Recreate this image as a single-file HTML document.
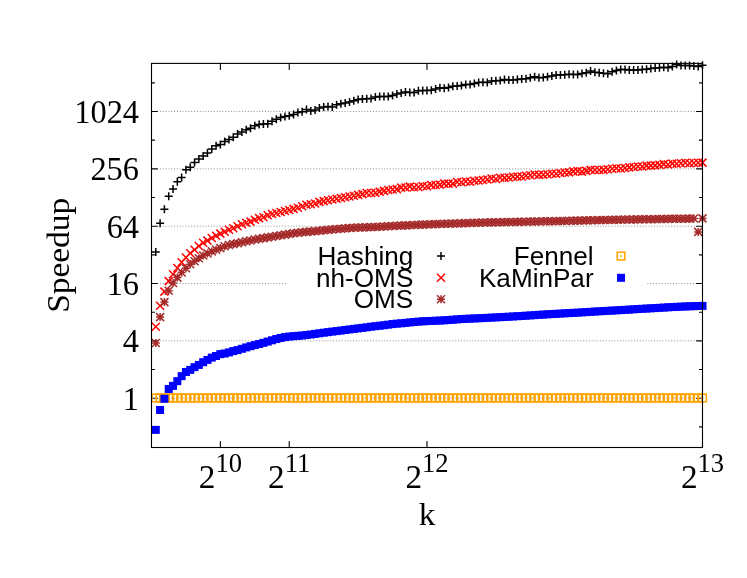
<!DOCTYPE html>
<html><head><meta charset="utf-8"><title>Speedup</title>
<style>html,body{margin:0;padding:0;background:#fff}svg{display:block;will-change:transform}</style>
</head><body>
<svg width="747" height="578" viewBox="0 0 747 578">
<defs>
<g id="p1"><path d="M-4 0H4M0 -4V4" fill="none" stroke-width="1.5"/></g>
<g id="p2"><path d="M-4 -4L4 4M-4 4L4 -4" fill="none" stroke-width="1.5"/></g>
<g id="p3"><path d="M-4 0H4M0 -4V4M-4 -4L4 4M-4 4L4 -4" fill="none" stroke-width="1.5"/></g>
<g id="p4"><rect x="-3.85" y="-3.85" width="7.7" height="7.7" fill="none" stroke-width="1.55"/><rect x="-0.9" y="-0.7" width="1.8" height="1.4" stroke="none"/></g>
<g id="p5"><rect x="-4" y="-4" width="8" height="8" stroke="none"/></g>
</defs>
<rect width="747" height="578" fill="#fff"/>
<g stroke="#8a8a8a" stroke-width="0.9" stroke-dasharray="1.05 1.79" fill="none">
<path d="M159.85 398.2H696.5"/>
<path d="M159.85 340.86H696.5"/>
<path d="M159.85 283.52H286.5M647.4 283.52H696.5"/>
<path d="M159.85 226.18H696.5"/>
<path d="M159.85 168.84H696.5"/>
<path d="M159.85 111.5H696.5"/>
</g>
<g stroke="#000" stroke-width="1.1" fill="none" stroke-linecap="round">
<path d="M151.5 398.2h6M702.5 398.2h-6M151.5 340.86h6M702.5 340.86h-6M151.5 283.52h6M702.5 283.52h-6M151.5 226.18h6M702.5 226.18h-6M151.5 168.84h6M702.5 168.84h-6M151.5 111.5h6M702.5 111.5h-6M151.5 426.87h3M702.5 426.87h-3M151.5 369.53h3M702.5 369.53h-3M151.5 312.19h3M702.5 312.19h-3M151.5 254.85h3M702.5 254.85h-3M151.5 197.51h3M702.5 197.51h-3M151.5 140.17h3M702.5 140.17h-3M151.5 82.83h3M702.5 82.83h-3M220.38 447.5v-6M220.38 63.4v6M289.25 447.5v-6M289.25 63.4v6M427 447.5v-6M427 63.4v6M702.5 447.5v-6M702.5 63.4v6"/>
</g>
<g stroke="#000" fill="#000">
<use href="#p1" x="155.8" y="252"/><use href="#p1" x="160.11" y="223.2"/><use href="#p1" x="164.41" y="209.3"/><use href="#p1" x="168.72" y="196.2"/><use href="#p1" x="173.02" y="188.9"/><use href="#p1" x="177.33" y="181.7"/><use href="#p1" x="181.63" y="177.5"/><use href="#p1" x="185.94" y="169.7"/><use href="#p1" x="190.24" y="167.2"/><use href="#p1" x="194.55" y="162.6"/><use href="#p1" x="198.85" y="159"/><use href="#p1" x="203.16" y="155.9"/><use href="#p1" x="207.46" y="152.9"/><use href="#p1" x="211.77" y="149"/><use href="#p1" x="216.07" y="145.8"/><use href="#p1" x="220.38" y="144.5"/><use href="#p1" x="224.68" y="141.6"/><use href="#p1" x="228.98" y="139.5"/><use href="#p1" x="233.29" y="137.3"/><use href="#p1" x="237.59" y="133.9"/><use href="#p1" x="241.9" y="132.1"/><use href="#p1" x="246.2" y="129.8"/><use href="#p1" x="250.51" y="128.2"/><use href="#p1" x="254.81" y="125.7"/><use href="#p1" x="259.12" y="124.5"/><use href="#p1" x="263.42" y="124.1"/><use href="#p1" x="267.73" y="123.7"/><use href="#p1" x="272.03" y="121.3"/><use href="#p1" x="276.34" y="119.2"/><use href="#p1" x="280.64" y="117.6"/><use href="#p1" x="284.95" y="116.5"/><use href="#p1" x="289.25" y="115.7"/><use href="#p1" x="293.55" y="114.4"/><use href="#p1" x="297.86" y="112.5"/><use href="#p1" x="302.16" y="111.7"/><use href="#p1" x="306.47" y="109.6"/><use href="#p1" x="310.77" y="110.9"/><use href="#p1" x="315.08" y="110.1"/><use href="#p1" x="319.38" y="108"/><use href="#p1" x="323.69" y="106.9"/><use href="#p1" x="327.99" y="106.4"/><use href="#p1" x="332.3" y="106.9"/><use href="#p1" x="336.6" y="104.8"/><use href="#p1" x="340.91" y="103.7"/><use href="#p1" x="345.21" y="102.9"/><use href="#p1" x="349.52" y="101.9"/><use href="#p1" x="353.82" y="100.7"/><use href="#p1" x="358.12" y="99.5"/><use href="#p1" x="362.43" y="99.1"/><use href="#p1" x="366.73" y="98.7"/><use href="#p1" x="371.04" y="98.4"/><use href="#p1" x="375.34" y="97.1"/><use href="#p1" x="379.65" y="96.6"/><use href="#p1" x="383.95" y="96.6"/><use href="#p1" x="388.26" y="96.6"/><use href="#p1" x="392.56" y="95.5"/><use href="#p1" x="396.87" y="93.9"/><use href="#p1" x="401.17" y="93.1"/><use href="#p1" x="405.48" y="92"/><use href="#p1" x="409.78" y="92.6"/><use href="#p1" x="414.09" y="92.6"/><use href="#p1" x="418.39" y="90.7"/><use href="#p1" x="422.7" y="90.4"/><use href="#p1" x="427" y="90.4"/><use href="#p1" x="431.3" y="90.2"/><use href="#p1" x="435.61" y="89.1"/><use href="#p1" x="439.91" y="87.8"/><use href="#p1" x="444.22" y="88.3"/><use href="#p1" x="448.52" y="87.5"/><use href="#p1" x="452.83" y="86.2"/><use href="#p1" x="457.13" y="85.9"/><use href="#p1" x="461.44" y="85.4"/><use href="#p1" x="465.74" y="84.6"/><use href="#p1" x="470.05" y="84.6"/><use href="#p1" x="474.35" y="83.6"/><use href="#p1" x="478.66" y="82.6"/><use href="#p1" x="482.96" y="82.3"/><use href="#p1" x="487.27" y="82.6"/><use href="#p1" x="491.57" y="81"/><use href="#p1" x="495.88" y="80.7"/><use href="#p1" x="500.18" y="80.4"/><use href="#p1" x="504.48" y="79.4"/><use href="#p1" x="508.79" y="79.9"/><use href="#p1" x="513.09" y="79.9"/><use href="#p1" x="517.4" y="79.6"/><use href="#p1" x="521.7" y="79.1"/><use href="#p1" x="526.01" y="78.8"/><use href="#p1" x="530.31" y="77.8"/><use href="#p1" x="534.62" y="76.7"/><use href="#p1" x="538.92" y="77.8"/><use href="#p1" x="543.23" y="77.5"/><use href="#p1" x="547.53" y="76.7"/><use href="#p1" x="551.84" y="75.9"/><use href="#p1" x="556.14" y="75.1"/><use href="#p1" x="560.45" y="75.1"/><use href="#p1" x="564.75" y="74.8"/><use href="#p1" x="569.05" y="74.3"/><use href="#p1" x="573.36" y="74.6"/><use href="#p1" x="577.66" y="74.6"/><use href="#p1" x="581.97" y="73.5"/><use href="#p1" x="586.27" y="72.7"/><use href="#p1" x="590.58" y="70.9"/><use href="#p1" x="594.88" y="72.2"/><use href="#p1" x="599.19" y="72.8"/><use href="#p1" x="603.49" y="73.3"/><use href="#p1" x="607.8" y="73.8"/><use href="#p1" x="612.1" y="71.7"/><use href="#p1" x="616.41" y="70.6"/><use href="#p1" x="620.71" y="69.6"/><use href="#p1" x="625.02" y="69.6"/><use href="#p1" x="629.32" y="70.1"/><use href="#p1" x="633.62" y="70.1"/><use href="#p1" x="637.93" y="70.1"/><use href="#p1" x="642.23" y="69.6"/><use href="#p1" x="646.54" y="69.3"/><use href="#p1" x="650.84" y="68.5"/><use href="#p1" x="655.15" y="68"/><use href="#p1" x="659.45" y="67.7"/><use href="#p1" x="663.76" y="67.3"/><use href="#p1" x="668.06" y="67.7"/><use href="#p1" x="672.37" y="66.5"/><use href="#p1" x="676.67" y="64.5"/><use href="#p1" x="680.98" y="65.6"/><use href="#p1" x="685.28" y="65.6"/><use href="#p1" x="689.59" y="65.6"/><use href="#p1" x="693.89" y="66.1"/><use href="#p1" x="698.2" y="66.5"/><use href="#p1" x="702.5" y="65.3"/>
</g>
<use href="#p1" x="441.0" y="256.1" stroke="#000"/>
<g stroke="#f00" fill="#f00">
<use href="#p2" x="155.8" y="326.7"/><use href="#p2" x="160.11" y="305.7"/><use href="#p2" x="164.41" y="291.6"/><use href="#p2" x="168.72" y="281.1"/><use href="#p2" x="173.02" y="274.2"/><use href="#p2" x="177.33" y="268"/><use href="#p2" x="181.63" y="262.2"/><use href="#p2" x="185.94" y="257.5"/><use href="#p2" x="190.24" y="253.2"/><use href="#p2" x="194.55" y="249.7"/><use href="#p2" x="198.85" y="246"/><use href="#p2" x="203.16" y="242.8"/><use href="#p2" x="207.46" y="240.6"/><use href="#p2" x="211.77" y="238"/><use href="#p2" x="216.07" y="235.8"/><use href="#p2" x="220.38" y="233.6"/><use href="#p2" x="224.68" y="231.7"/><use href="#p2" x="228.98" y="229.8"/><use href="#p2" x="233.29" y="228.2"/><use href="#p2" x="237.59" y="226.2"/><use href="#p2" x="241.9" y="224.2"/><use href="#p2" x="246.2" y="222.8"/><use href="#p2" x="250.51" y="221.6"/><use href="#p2" x="254.81" y="219.7"/><use href="#p2" x="259.12" y="218.1"/><use href="#p2" x="263.42" y="217.2"/><use href="#p2" x="267.73" y="215.2"/><use href="#p2" x="272.03" y="214"/><use href="#p2" x="276.34" y="212.92"/><use href="#p2" x="280.64" y="211.93"/><use href="#p2" x="284.95" y="210.96"/><use href="#p2" x="289.25" y="209.97"/><use href="#p2" x="293.55" y="208.9"/><use href="#p2" x="297.86" y="207.7"/><use href="#p2" x="302.16" y="206.2"/><use href="#p2" x="306.47" y="204.8"/><use href="#p2" x="310.77" y="204.2"/><use href="#p2" x="315.08" y="203.5"/><use href="#p2" x="319.38" y="201.9"/><use href="#p2" x="323.69" y="201.1"/><use href="#p2" x="327.99" y="200.3"/><use href="#p2" x="332.3" y="199.52"/><use href="#p2" x="336.6" y="198.75"/><use href="#p2" x="340.91" y="197.98"/><use href="#p2" x="345.21" y="197.22"/><use href="#p2" x="349.52" y="196.45"/><use href="#p2" x="353.82" y="195.68"/><use href="#p2" x="358.12" y="194.9"/><use href="#p2" x="362.43" y="194.1"/><use href="#p2" x="366.73" y="193"/><use href="#p2" x="371.04" y="193"/><use href="#p2" x="375.34" y="192.7"/><use href="#p2" x="379.65" y="191.65"/><use href="#p2" x="383.95" y="190.85"/><use href="#p2" x="388.26" y="190.05"/><use href="#p2" x="392.56" y="189.42"/><use href="#p2" x="396.87" y="189.13"/><use href="#p2" x="401.17" y="187.64"/><use href="#p2" x="405.48" y="187.57"/><use href="#p2" x="409.78" y="186.64"/><use href="#p2" x="414.09" y="187.23"/><use href="#p2" x="418.39" y="186.91"/><use href="#p2" x="422.7" y="185.97"/><use href="#p2" x="427" y="186.29"/><use href="#p2" x="431.3" y="185.13"/><use href="#p2" x="435.61" y="185.09"/><use href="#p2" x="439.91" y="184.61"/><use href="#p2" x="444.22" y="183.61"/><use href="#p2" x="448.52" y="183.6"/><use href="#p2" x="452.83" y="183.61"/><use href="#p2" x="457.13" y="182.08"/><use href="#p2" x="461.44" y="182.29"/><use href="#p2" x="465.74" y="181.47"/><use href="#p2" x="470.05" y="181.71"/><use href="#p2" x="474.35" y="180.83"/><use href="#p2" x="478.66" y="180.48"/><use href="#p2" x="482.96" y="180.05"/><use href="#p2" x="487.27" y="179.51"/><use href="#p2" x="491.57" y="178.52"/><use href="#p2" x="495.88" y="179.09"/><use href="#p2" x="500.18" y="177.72"/><use href="#p2" x="504.48" y="177.87"/><use href="#p2" x="508.79" y="177.59"/><use href="#p2" x="513.09" y="176.67"/><use href="#p2" x="517.4" y="176.63"/><use href="#p2" x="521.7" y="176.59"/><use href="#p2" x="526.01" y="175.84"/><use href="#p2" x="530.31" y="175.31"/><use href="#p2" x="534.62" y="174.43"/><use href="#p2" x="538.92" y="174.87"/><use href="#p2" x="543.23" y="174.69"/><use href="#p2" x="547.53" y="174.33"/><use href="#p2" x="551.84" y="173.74"/><use href="#p2" x="556.14" y="173.74"/><use href="#p2" x="560.45" y="172.92"/><use href="#p2" x="564.75" y="172.58"/><use href="#p2" x="569.05" y="172.37"/><use href="#p2" x="573.36" y="171.37"/><use href="#p2" x="577.66" y="171.13"/><use href="#p2" x="581.97" y="171.61"/><use href="#p2" x="586.27" y="170.85"/><use href="#p2" x="590.58" y="169.85"/><use href="#p2" x="594.88" y="170.04"/><use href="#p2" x="599.19" y="169.97"/><use href="#p2" x="603.49" y="169.88"/><use href="#p2" x="607.8" y="169.18"/><use href="#p2" x="612.1" y="168.67"/><use href="#p2" x="616.41" y="168.32"/><use href="#p2" x="620.71" y="168.49"/><use href="#p2" x="625.02" y="168.02"/><use href="#p2" x="629.32" y="167.35"/><use href="#p2" x="633.62" y="167.06"/><use href="#p2" x="637.93" y="166.57"/><use href="#p2" x="642.23" y="166.55"/><use href="#p2" x="646.54" y="165.64"/><use href="#p2" x="650.84" y="165.64"/><use href="#p2" x="655.15" y="165.38"/><use href="#p2" x="659.45" y="164.89"/><use href="#p2" x="663.76" y="164.1"/><use href="#p2" x="668.06" y="164.57"/><use href="#p2" x="672.37" y="163.61"/><use href="#p2" x="676.67" y="163.81"/><use href="#p2" x="680.98" y="163.24"/><use href="#p2" x="685.28" y="162.74"/><use href="#p2" x="689.59" y="163.2"/><use href="#p2" x="693.89" y="163.04"/><use href="#p2" x="698.2" y="162.84"/><use href="#p2" x="702.5" y="162.6"/>
</g>
<use href="#p2" x="441.0" y="277.8" stroke="#f00"/>
<g stroke="#a52a2a" fill="#a52a2a">
<use href="#p3" x="155.8" y="343"/><use href="#p3" x="160.11" y="317.1"/><use href="#p3" x="164.41" y="302.1"/><use href="#p3" x="168.72" y="290.8"/><use href="#p3" x="173.02" y="283"/><use href="#p3" x="177.33" y="277.6"/><use href="#p3" x="181.63" y="272.5"/><use href="#p3" x="185.94" y="268.2"/><use href="#p3" x="190.24" y="264.3"/><use href="#p3" x="194.55" y="261.2"/><use href="#p3" x="198.85" y="258.2"/><use href="#p3" x="203.16" y="255.5"/><use href="#p3" x="207.46" y="253.4"/><use href="#p3" x="211.77" y="251.4"/><use href="#p3" x="216.07" y="249.7"/><use href="#p3" x="220.38" y="248.1"/><use href="#p3" x="224.68" y="246.3"/><use href="#p3" x="228.98" y="245.09"/><use href="#p3" x="233.29" y="244.09"/><use href="#p3" x="237.59" y="243.2"/><use href="#p3" x="241.9" y="242.28"/><use href="#p3" x="246.2" y="241.32"/><use href="#p3" x="250.51" y="240.41"/><use href="#p3" x="254.81" y="239.58"/><use href="#p3" x="259.12" y="238.82"/><use href="#p3" x="263.42" y="238.1"/><use href="#p3" x="267.73" y="237.4"/><use href="#p3" x="272.03" y="236.73"/><use href="#p3" x="276.34" y="236.05"/><use href="#p3" x="280.64" y="235.34"/><use href="#p3" x="284.95" y="234.64"/><use href="#p3" x="289.25" y="233.96"/><use href="#p3" x="293.55" y="233.34"/><use href="#p3" x="297.86" y="232.79"/><use href="#p3" x="302.16" y="232.29"/><use href="#p3" x="306.47" y="231.86"/><use href="#p3" x="310.77" y="231.49"/><use href="#p3" x="315.08" y="231.15"/><use href="#p3" x="319.38" y="230.74"/><use href="#p3" x="323.69" y="230.28"/><use href="#p3" x="327.99" y="229.86"/><use href="#p3" x="332.3" y="229.46"/><use href="#p3" x="336.6" y="229.07"/><use href="#p3" x="340.91" y="228.69"/><use href="#p3" x="345.21" y="228.35"/><use href="#p3" x="349.52" y="228.04"/><use href="#p3" x="353.82" y="227.78"/><use href="#p3" x="358.12" y="227.58"/><use href="#p3" x="362.43" y="227.43"/><use href="#p3" x="366.73" y="227.27"/><use href="#p3" x="371.04" y="227.12"/><use href="#p3" x="375.34" y="226.96"/><use href="#p3" x="379.65" y="226.76"/><use href="#p3" x="383.95" y="226.5"/><use href="#p3" x="388.26" y="226.26"/><use href="#p3" x="392.56" y="226.04"/><use href="#p3" x="396.87" y="225.81"/><use href="#p3" x="401.17" y="225.6"/><use href="#p3" x="405.48" y="225.39"/><use href="#p3" x="409.78" y="225.19"/><use href="#p3" x="414.09" y="224.99"/><use href="#p3" x="418.39" y="224.8"/><use href="#p3" x="422.7" y="224.63"/><use href="#p3" x="427" y="224.46"/><use href="#p3" x="431.3" y="224.3"/><use href="#p3" x="435.61" y="224.14"/><use href="#p3" x="439.91" y="223.99"/><use href="#p3" x="444.22" y="223.84"/><use href="#p3" x="448.52" y="223.7"/><use href="#p3" x="452.83" y="223.57"/><use href="#p3" x="457.13" y="223.44"/><use href="#p3" x="461.44" y="223.3"/><use href="#p3" x="465.74" y="223.14"/><use href="#p3" x="470.05" y="222.96"/><use href="#p3" x="474.35" y="222.8"/><use href="#p3" x="478.66" y="222.67"/><use href="#p3" x="482.96" y="222.56"/><use href="#p3" x="487.27" y="222.46"/><use href="#p3" x="491.57" y="222.36"/><use href="#p3" x="495.88" y="222.28"/><use href="#p3" x="500.18" y="222.19"/><use href="#p3" x="504.48" y="222.11"/><use href="#p3" x="508.79" y="222.02"/><use href="#p3" x="513.09" y="221.94"/><use href="#p3" x="517.4" y="221.85"/><use href="#p3" x="521.7" y="221.76"/><use href="#p3" x="526.01" y="221.68"/><use href="#p3" x="530.31" y="221.59"/><use href="#p3" x="534.62" y="221.51"/><use href="#p3" x="538.92" y="221.42"/><use href="#p3" x="543.23" y="221.34"/><use href="#p3" x="547.53" y="221.26"/><use href="#p3" x="551.84" y="221.18"/><use href="#p3" x="556.14" y="221.1"/><use href="#p3" x="560.45" y="221.02"/><use href="#p3" x="564.75" y="220.92"/><use href="#p3" x="569.05" y="220.81"/><use href="#p3" x="573.36" y="220.7"/><use href="#p3" x="577.66" y="220.6"/><use href="#p3" x="581.97" y="220.5"/><use href="#p3" x="586.27" y="220.4"/><use href="#p3" x="590.58" y="220.31"/><use href="#p3" x="594.88" y="220.21"/><use href="#p3" x="599.19" y="220.12"/><use href="#p3" x="603.49" y="220.03"/><use href="#p3" x="607.8" y="219.94"/><use href="#p3" x="612.1" y="219.85"/><use href="#p3" x="616.41" y="219.76"/><use href="#p3" x="620.71" y="219.67"/><use href="#p3" x="625.02" y="219.58"/><use href="#p3" x="629.32" y="219.5"/><use href="#p3" x="633.62" y="219.43"/><use href="#p3" x="637.93" y="219.36"/><use href="#p3" x="642.23" y="219.31"/><use href="#p3" x="646.54" y="219.26"/><use href="#p3" x="650.84" y="219.21"/><use href="#p3" x="655.15" y="219.14"/><use href="#p3" x="659.45" y="219.05"/><use href="#p3" x="663.76" y="218.97"/><use href="#p3" x="668.06" y="218.89"/><use href="#p3" x="672.37" y="218.83"/><use href="#p3" x="676.67" y="218.77"/><use href="#p3" x="680.98" y="218.72"/><use href="#p3" x="685.28" y="218.67"/><use href="#p3" x="689.59" y="218.61"/><use href="#p3" x="693.89" y="218.54"/><use href="#p3" x="698.2" y="231.9"/><use href="#p3" x="702.5" y="218.4"/>
</g>
<use href="#p3" x="441.0" y="299.3" stroke="#a52a2a"/>
<g stroke="#ffa500" fill="#ffa500">
<use href="#p4" x="155.8" y="398"/><use href="#p4" x="160.11" y="398"/><use href="#p4" x="164.41" y="398"/><use href="#p4" x="168.72" y="398"/><use href="#p4" x="173.02" y="398"/><use href="#p4" x="177.33" y="398"/><use href="#p4" x="181.63" y="398"/><use href="#p4" x="185.94" y="398"/><use href="#p4" x="190.24" y="398"/><use href="#p4" x="194.55" y="398"/><use href="#p4" x="198.85" y="398"/><use href="#p4" x="203.16" y="398"/><use href="#p4" x="207.46" y="398"/><use href="#p4" x="211.77" y="398"/><use href="#p4" x="216.07" y="398"/><use href="#p4" x="220.38" y="398"/><use href="#p4" x="224.68" y="398"/><use href="#p4" x="228.98" y="398"/><use href="#p4" x="233.29" y="398"/><use href="#p4" x="237.59" y="398"/><use href="#p4" x="241.9" y="398"/><use href="#p4" x="246.2" y="398"/><use href="#p4" x="250.51" y="398"/><use href="#p4" x="254.81" y="398"/><use href="#p4" x="259.12" y="398"/><use href="#p4" x="263.42" y="398"/><use href="#p4" x="267.73" y="398"/><use href="#p4" x="272.03" y="398"/><use href="#p4" x="276.34" y="398"/><use href="#p4" x="280.64" y="398"/><use href="#p4" x="284.95" y="398"/><use href="#p4" x="289.25" y="398"/><use href="#p4" x="293.55" y="398"/><use href="#p4" x="297.86" y="398"/><use href="#p4" x="302.16" y="398"/><use href="#p4" x="306.47" y="398"/><use href="#p4" x="310.77" y="398"/><use href="#p4" x="315.08" y="398"/><use href="#p4" x="319.38" y="398"/><use href="#p4" x="323.69" y="398"/><use href="#p4" x="327.99" y="398"/><use href="#p4" x="332.3" y="398"/><use href="#p4" x="336.6" y="398"/><use href="#p4" x="340.91" y="398"/><use href="#p4" x="345.21" y="398"/><use href="#p4" x="349.52" y="398"/><use href="#p4" x="353.82" y="398"/><use href="#p4" x="358.12" y="398"/><use href="#p4" x="362.43" y="398"/><use href="#p4" x="366.73" y="398"/><use href="#p4" x="371.04" y="398"/><use href="#p4" x="375.34" y="398"/><use href="#p4" x="379.65" y="398"/><use href="#p4" x="383.95" y="398"/><use href="#p4" x="388.26" y="398"/><use href="#p4" x="392.56" y="398"/><use href="#p4" x="396.87" y="398"/><use href="#p4" x="401.17" y="398"/><use href="#p4" x="405.48" y="398"/><use href="#p4" x="409.78" y="398"/><use href="#p4" x="414.09" y="398"/><use href="#p4" x="418.39" y="398"/><use href="#p4" x="422.7" y="398"/><use href="#p4" x="427" y="398"/><use href="#p4" x="431.3" y="398"/><use href="#p4" x="435.61" y="398"/><use href="#p4" x="439.91" y="398"/><use href="#p4" x="444.22" y="398"/><use href="#p4" x="448.52" y="398"/><use href="#p4" x="452.83" y="398"/><use href="#p4" x="457.13" y="398"/><use href="#p4" x="461.44" y="398"/><use href="#p4" x="465.74" y="398"/><use href="#p4" x="470.05" y="398"/><use href="#p4" x="474.35" y="398"/><use href="#p4" x="478.66" y="398"/><use href="#p4" x="482.96" y="398"/><use href="#p4" x="487.27" y="398"/><use href="#p4" x="491.57" y="398"/><use href="#p4" x="495.88" y="398"/><use href="#p4" x="500.18" y="398"/><use href="#p4" x="504.48" y="398"/><use href="#p4" x="508.79" y="398"/><use href="#p4" x="513.09" y="398"/><use href="#p4" x="517.4" y="398"/><use href="#p4" x="521.7" y="398"/><use href="#p4" x="526.01" y="398"/><use href="#p4" x="530.31" y="398"/><use href="#p4" x="534.62" y="398"/><use href="#p4" x="538.92" y="398"/><use href="#p4" x="543.23" y="398"/><use href="#p4" x="547.53" y="398"/><use href="#p4" x="551.84" y="398"/><use href="#p4" x="556.14" y="398"/><use href="#p4" x="560.45" y="398"/><use href="#p4" x="564.75" y="398"/><use href="#p4" x="569.05" y="398"/><use href="#p4" x="573.36" y="398"/><use href="#p4" x="577.66" y="398"/><use href="#p4" x="581.97" y="398"/><use href="#p4" x="586.27" y="398"/><use href="#p4" x="590.58" y="398"/><use href="#p4" x="594.88" y="398"/><use href="#p4" x="599.19" y="398"/><use href="#p4" x="603.49" y="398"/><use href="#p4" x="607.8" y="398"/><use href="#p4" x="612.1" y="398"/><use href="#p4" x="616.41" y="398"/><use href="#p4" x="620.71" y="398"/><use href="#p4" x="625.02" y="398"/><use href="#p4" x="629.32" y="398"/><use href="#p4" x="633.62" y="398"/><use href="#p4" x="637.93" y="398"/><use href="#p4" x="642.23" y="398"/><use href="#p4" x="646.54" y="398"/><use href="#p4" x="650.84" y="398"/><use href="#p4" x="655.15" y="398"/><use href="#p4" x="659.45" y="398"/><use href="#p4" x="663.76" y="398"/><use href="#p4" x="668.06" y="398"/><use href="#p4" x="672.37" y="398"/><use href="#p4" x="676.67" y="398"/><use href="#p4" x="680.98" y="398"/><use href="#p4" x="685.28" y="398"/><use href="#p4" x="689.59" y="398"/><use href="#p4" x="693.89" y="398"/><use href="#p4" x="698.2" y="398"/><use href="#p4" x="702.5" y="398"/>
</g>
<use href="#p4" x="621.05" y="256.1" stroke="#ffa500" fill="#ffa500"/>
<g stroke="#00f" fill="#00f">
<use href="#p5" x="155.8" y="429.87"/><use href="#p5" x="160.11" y="409.97"/><use href="#p5" x="164.41" y="398.77"/><use href="#p5" x="168.72" y="388.98"/><use href="#p5" x="173.02" y="385.88"/><use href="#p5" x="177.33" y="381.17"/><use href="#p5" x="181.63" y="376.17"/><use href="#p5" x="185.94" y="371.98"/><use href="#p5" x="190.24" y="369.88"/><use href="#p5" x="194.55" y="367.17"/><use href="#p5" x="198.85" y="364.93"/><use href="#p5" x="203.16" y="362.23"/><use href="#p5" x="207.46" y="359.92"/><use href="#p5" x="211.77" y="357.62"/><use href="#p5" x="216.07" y="356.01"/><use href="#p5" x="220.38" y="354.11"/><use href="#p5" x="224.68" y="353.5"/><use href="#p5" x="228.98" y="352.4"/><use href="#p5" x="233.29" y="351.1"/><use href="#p5" x="237.59" y="350.1"/><use href="#p5" x="241.9" y="348.8"/><use href="#p5" x="246.2" y="347.4"/><use href="#p5" x="250.51" y="346.2"/><use href="#p5" x="254.81" y="345.09"/><use href="#p5" x="259.12" y="344"/><use href="#p5" x="263.42" y="342.84"/><use href="#p5" x="267.73" y="341.57"/><use href="#p5" x="272.03" y="340.28"/><use href="#p5" x="276.34" y="339.04"/><use href="#p5" x="280.64" y="337.96"/><use href="#p5" x="284.95" y="337.1"/><use href="#p5" x="289.25" y="336.55"/><use href="#p5" x="293.55" y="336.17"/><use href="#p5" x="297.86" y="335.85"/><use href="#p5" x="302.16" y="335.51"/><use href="#p5" x="306.47" y="335.05"/><use href="#p5" x="310.77" y="334.49"/><use href="#p5" x="315.08" y="333.88"/><use href="#p5" x="319.38" y="333.28"/><use href="#p5" x="323.69" y="332.71"/><use href="#p5" x="327.99" y="332.15"/><use href="#p5" x="332.3" y="331.6"/><use href="#p5" x="336.6" y="331.08"/><use href="#p5" x="340.91" y="330.56"/><use href="#p5" x="345.21" y="330"/><use href="#p5" x="349.52" y="329.43"/><use href="#p5" x="353.82" y="328.89"/><use href="#p5" x="358.12" y="328.37"/><use href="#p5" x="362.43" y="327.85"/><use href="#p5" x="366.73" y="327.28"/><use href="#p5" x="371.04" y="326.71"/><use href="#p5" x="375.34" y="326.19"/><use href="#p5" x="379.65" y="325.72"/><use href="#p5" x="383.95" y="325.24"/><use href="#p5" x="388.26" y="324.67"/><use href="#p5" x="392.56" y="324.07"/><use href="#p5" x="396.87" y="323.64"/><use href="#p5" x="401.17" y="323.3"/><use href="#p5" x="405.48" y="322.88"/><use href="#p5" x="409.78" y="322.44"/><use href="#p5" x="414.09" y="322"/><use href="#p5" x="418.39" y="321.62"/><use href="#p5" x="422.7" y="321.32"/><use href="#p5" x="427" y="321.1"/><use href="#p5" x="431.3" y="320.92"/><use href="#p5" x="435.61" y="320.74"/><use href="#p5" x="439.91" y="320.55"/><use href="#p5" x="444.22" y="320.32"/><use href="#p5" x="448.52" y="320.03"/><use href="#p5" x="452.83" y="319.7"/><use href="#p5" x="457.13" y="319.37"/><use href="#p5" x="461.44" y="319.07"/><use href="#p5" x="465.74" y="318.83"/><use href="#p5" x="470.05" y="318.63"/><use href="#p5" x="474.35" y="318.45"/><use href="#p5" x="478.66" y="318.26"/><use href="#p5" x="482.96" y="318.06"/><use href="#p5" x="487.27" y="317.84"/><use href="#p5" x="491.57" y="317.62"/><use href="#p5" x="495.88" y="317.39"/><use href="#p5" x="500.18" y="317.17"/><use href="#p5" x="504.48" y="316.93"/><use href="#p5" x="508.79" y="316.7"/><use href="#p5" x="513.09" y="316.46"/><use href="#p5" x="517.4" y="316.22"/><use href="#p5" x="521.7" y="315.97"/><use href="#p5" x="526.01" y="315.7"/><use href="#p5" x="530.31" y="315.42"/><use href="#p5" x="534.62" y="315.13"/><use href="#p5" x="538.92" y="314.84"/><use href="#p5" x="543.23" y="314.57"/><use href="#p5" x="547.53" y="314.31"/><use href="#p5" x="551.84" y="314.06"/><use href="#p5" x="556.14" y="313.82"/><use href="#p5" x="560.45" y="313.57"/><use href="#p5" x="564.75" y="313.33"/><use href="#p5" x="569.05" y="313.1"/><use href="#p5" x="573.36" y="312.86"/><use href="#p5" x="577.66" y="312.61"/><use href="#p5" x="581.97" y="312.37"/><use href="#p5" x="586.27" y="312.11"/><use href="#p5" x="590.58" y="311.84"/><use href="#p5" x="594.88" y="311.58"/><use href="#p5" x="599.19" y="311.31"/><use href="#p5" x="603.49" y="311.06"/><use href="#p5" x="607.8" y="310.82"/><use href="#p5" x="612.1" y="310.58"/><use href="#p5" x="616.41" y="310.35"/><use href="#p5" x="620.71" y="310.11"/><use href="#p5" x="625.02" y="309.86"/><use href="#p5" x="629.32" y="309.59"/><use href="#p5" x="633.62" y="309.31"/><use href="#p5" x="637.93" y="309.04"/><use href="#p5" x="642.23" y="308.79"/><use href="#p5" x="646.54" y="308.55"/><use href="#p5" x="650.84" y="308.31"/><use href="#p5" x="655.15" y="308.07"/><use href="#p5" x="659.45" y="307.82"/><use href="#p5" x="663.76" y="307.57"/><use href="#p5" x="668.06" y="307.31"/><use href="#p5" x="672.37" y="307.07"/><use href="#p5" x="676.67" y="306.85"/><use href="#p5" x="680.98" y="306.66"/><use href="#p5" x="685.28" y="306.48"/><use href="#p5" x="689.59" y="306.31"/><use href="#p5" x="693.89" y="306.16"/><use href="#p5" x="698.2" y="306.02"/><use href="#p5" x="702.5" y="305.9"/>
</g>
<use href="#p5" x="621.05" y="277.8" fill="#00f"/>
<rect x="151.5" y="63.4" width="551" height="384.1" fill="none" stroke="#000" stroke-width="1.1"/>
<g font-family="'Liberation Serif', serif" font-size="32" fill="#000">
<text transform="translate(139 409.6) scale(1.012 1.075)" text-anchor="end">1</text>
<text transform="translate(139 352.26) scale(1.012 1.075)" text-anchor="end">4</text>
<text transform="translate(139 294.92) scale(1.012 1.075)" text-anchor="end">16</text>
<text transform="translate(139 237.58) scale(1.012 1.075)" text-anchor="end">64</text>
<text transform="translate(139 180.24) scale(1.012 1.075)" text-anchor="end">256</text>
<text transform="translate(139 122.9) scale(1.012 1.075)" text-anchor="end">1024</text>
<text transform="translate(220.38 488.2) scale(1.04 1.075)" text-anchor="middle">2<tspan font-size="25.6" dy="-15.4">10</tspan></text>
<text transform="translate(289.25 488.2) scale(1.04 1.075)" text-anchor="middle">2<tspan font-size="25.6" dy="-15.4">11</tspan></text>
<text transform="translate(427 488.2) scale(1.04 1.075)" text-anchor="middle">2<tspan font-size="25.6" dy="-15.4">12</tspan></text>
<text transform="translate(702.5 488.2) scale(1.04 1.075)" text-anchor="middle">2<tspan font-size="25.6" dy="-15.4">13</tspan></text>
<text transform="translate(427 524.9) scale(1.04 1)" text-anchor="middle">k</text>
<text transform="translate(68.6 255.3) rotate(-90) scale(1.045 1)" text-anchor="middle">Speedup</text>
</g>
<g font-family="'Liberation Sans', sans-serif" font-size="26" fill="#000" text-anchor="end">
<text transform="translate(413.3 264.8) scale(1.005 1)">Hashing</text>
<text transform="translate(413.3 286.5) scale(1.005 1)">nh-OMS</text>
<text transform="translate(413.3 308.1) scale(1.005 1)">OMS</text>
<text transform="translate(593.6 264.8) scale(1.005 1)">Fennel</text>
<text transform="translate(593.6 286.5) scale(1.005 1)">KaMinPar</text>
</g>
</svg>
</body></html>
